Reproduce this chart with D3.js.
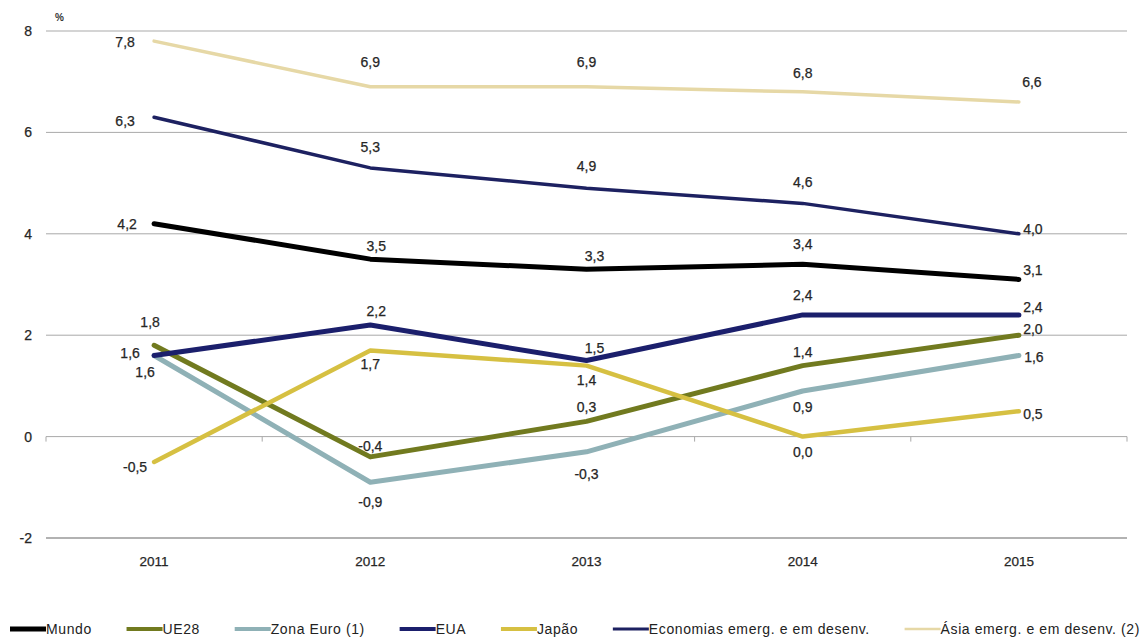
<!DOCTYPE html>
<html>
<head>
<meta charset="utf-8">
<script src="https://cdn.jsdelivr.net/npm/d3@7"></script>
<style>
  html, body { margin: 0; padding: 0; background: #fff; }
  svg { display: block; font-family: "Liberation Sans", Arial, sans-serif; }
  .txt { stroke: #262626; stroke-width: 0.25px; fill: #262626; }
</style>
</head>
<body>
<svg id="chart" width="1144" height="638"></svg>
<script>
// Real GDP growth, % per year
const years = ["2011", "2012", "2013", "2014", "2015"];
const yTicks = [-2, 0, 2, 4, 6, 8];

const mundo      = [4.2, 3.5, 3.3, 3.4, 3.1];
const ue28       = [1.8, -0.4, 0.3, 1.4, 2.0];
const zonaEuro   = [1.6, -0.9, -0.3, 0.9, 1.6];
const eua        = [1.6, 2.2, 1.5, 2.4, 2.4];
const japao      = [-0.5, 1.7, 1.4, 0.0, 0.5];
const economias  = [6.3, 5.3, 4.9, 4.6, 4.0];
const asia       = [7.8, 6.9, 6.9, 6.8, 6.6];

const seriesNames = ["Mundo", "UE28", "Zona Euro (1)", "EUA", "Japão",
                     "Economias emerg. e em desenv.", "Ásia emerg. e em desenv. (2)"];
const seriesValues = [mundo, ue28, zonaEuro, eua, japao, economias, asia];

// Styling per series
const colors = ["#000000", "#717a1f", "#8fb1b6", "#1b1f6c", "#d6c042", "#1d2161", "#e6d8a6"];
const widths = [5, 5, 5, 5, 4.5, 3.5, 3.5];
const legendWidths = [5, 4, 4, 4, 4, 3, 2.5];

// Data label placement (pixel offsets from each point)
const labelOffsets = [
  [[-27, 0], [6, -13], [8, -13], [0, -20], [14, -9]],
  [[-4, -23], [0, -11], [0, -14], [0, -14], [14, -6]],
  [[-9, 17], [0, 20], [0, 22], [0, 16], [15, 2]],
  [[-24, -2], [6, -14], [8, -12], [0, -20], [14, -8]],
  [[-19, 5], [0, 14], [0, 14], [0, 15], [14, 3]],
  [[-29, 4], [0, -21], [0, -22], [0, -21], [14, -5]],
  [[-29, 1], [0, -25], [0, -25], [0, -19], [13, -20]]
];

const svg = d3.select("#chart");
const plotLeft = 46, plotRight = 1127, plotTop = 31, plotBottom = 538;

const x = d3.scaleBand().domain(years).range([plotLeft, plotRight]).padding(0);
const cx = d => x(d) + x.bandwidth() / 2;
const y = d3.scaleLinear().domain([-2, 8]).range([plotBottom, plotTop]);

// Horizontal gridlines
svg.append("g").selectAll("line").data(yTicks).join("line")
  .attr("x1", plotLeft).attr("x2", plotRight)
  .attr("y1", d => y(d)).attr("y2", d => y(d))
  .attr("stroke", d => d === -2 ? "#999" : "#a9a9a9")
  .attr("stroke-width", d => d === -2 ? 1.5 : 1);

// Y axis labels
svg.append("g").selectAll("text").data(yTicks).join("text")
  .attr("class", "txt")
  .attr("x", 32).attr("y", d => y(d)).attr("dy", "0.35em")
  .attr("text-anchor", "end").attr("font-size", 14)
  .text(d => String(d));

svg.append("text").attr("x", 55).attr("y", 21)
  .attr("font-size", 10).attr("font-weight", "bold").attr("fill", "#333").text("%");

// Category axis on the zero line (ticks between categories)
const tickXs = years.map(d => x(d)).concat([plotRight]);
svg.append("g").selectAll("line").data(tickXs).join("line")
  .attr("x1", d => d).attr("x2", d => d)
  .attr("y1", y(0)).attr("y2", y(0) + 5)
  .attr("stroke", "#a9a9a9").attr("stroke-width", 1);

svg.append("g").selectAll("text").data(years).join("text")
  .attr("class", "txt")
  .attr("x", d => cx(d)).attr("y", 561).attr("dy", "0.35em")
  .attr("text-anchor", "middle").attr("font-size", 13.5)
  .text(d => d);

// Series lines
const line = d3.line().x((d, i) => cx(years[i])).y(d => y(d));
const gLines = svg.append("g");
seriesValues.forEach((vals, s) => {
  gLines.append("path").datum(vals)
    .attr("d", line)
    .attr("fill", "none")
    .attr("stroke", colors[s])
    .attr("stroke-width", widths[s])
    .attr("stroke-linejoin", "round")
    .attr("stroke-linecap", "round");
});

// Data labels
const fmt = v => d3.format(".1f")(v).replace(".", ",").replace("−", "-");
const gLabels = svg.append("g");
seriesValues.forEach((vals, s) => {
  vals.forEach((v, i) => {
    const off = labelOffsets[s][i];
    gLabels.append("text")
      .attr("class", "txt")
      .attr("x", cx(years[i]) + off[0])
      .attr("y", y(v) + off[1])
      .attr("dy", "0.35em")
      .attr("text-anchor", "middle")
      .attr("font-size", 14)
      .text(fmt(v));
  });
});

// Legend
const legendY = 629, lineLen = 36, legendLeft = 10, legendRight = 1140;
const gLeg = svg.append("g");
const items = seriesNames.map((name, s) => {
  const g = gLeg.append("g");
  g.append("line").attr("x1", 0).attr("x2", lineLen)
    .attr("y1", 0).attr("y2", 0)
    .attr("stroke", colors[s]).attr("stroke-width", legendWidths[s]);
  const t = g.append("text").attr("x", lineLen).attr("y", 0).attr("dy", "0.35em")
    .attr("font-size", 14).attr("letter-spacing", 0.6).attr("fill", "#222").text(name);
  return { g, w: lineLen + t.node().getComputedTextLength() };
});
const totalW = d3.sum(items, d => d.w);
const gap = (legendRight - legendLeft - totalW) / (items.length - 1);
let xPos = legendLeft;
items.forEach(it => {
  it.g.attr("transform", `translate(${xPos},${legendY})`);
  xPos += it.w + gap;
});
</script>
</body>
</html>
